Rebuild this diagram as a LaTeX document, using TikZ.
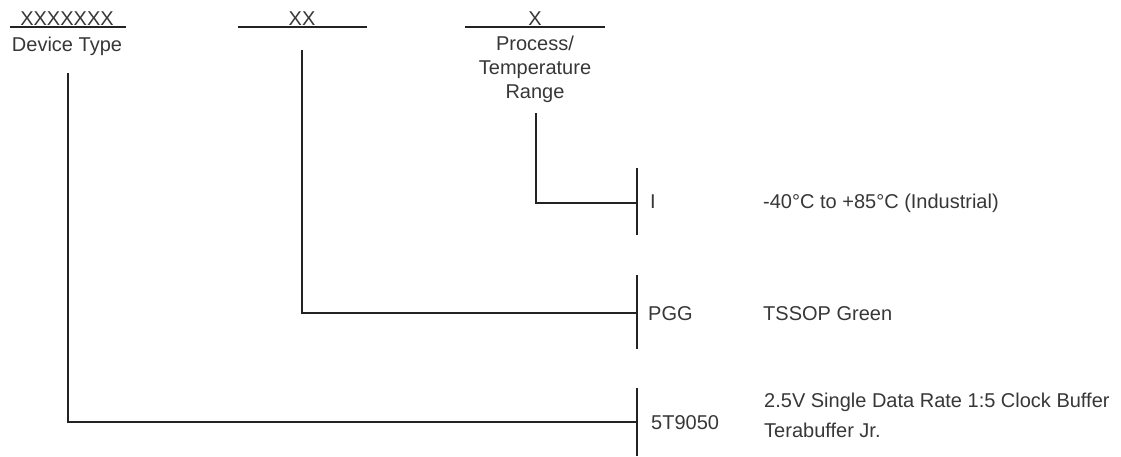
\documentclass[tikz,border=0pt]{standalone}
\usepackage{fontspec}
\setmainfont{Liberation Sans}
\definecolor{txt}{RGB}{55,55,55}
\definecolor{lnc}{RGB}{35,35,35}
\begin{document}
\begin{tikzpicture}[x=1pt,y=-1pt,
  lbl/.style={font=\fontsize{20}{24}\selectfont, text=txt, inner sep=0pt, anchor=base},
  lblw/.style={font=\fontsize{20}{24}\selectfont, text=txt, inner sep=0pt, anchor=base west},
  ln/.style={draw=lnc, line width=1.4pt},
  bar/.style={draw=lnc, line width=1.4pt}]
\useasboundingbox (0,0) rectangle (1121,456);
% header fields
\node[lbl] (f1) at (67,25) {XXXXXXX};
\node[lbl] (f2) at (302,25) {XX};
\node[lbl] (f3) at (535,25) {X};
\draw[ln] (10,27) -- (126,27);
\draw[ln] (238,27) -- (367,27);
\draw[ln] (465,27) -- (605,27);
\node[lbl] (d1) at (67,51) {Device Type};
\node[lbl] (d3a) at (535,50) {Process/};
\node[lbl] (d3b) at (535,74) {Temperature};
\node[lbl] (d3c) at (535,98) {Range};
% connector start points
\coordinate (s1) at (68,73);
\coordinate (s2) at (302,50);
\coordinate (s3) at (536,113);
% bar junctions
\coordinate (j1) at (637,422);
\coordinate (j2) at (637,313);
\coordinate (j3) at (637,203);
% bars
\draw[bar] (637,168) -- (637,235);
\draw[bar] (637,275) -- (637,349);
\draw[bar] (637,388) -- (637,456);
% connectors
\draw[ln] (s3) |- (j3);
\draw[ln] (s2) |- (j2);
\draw[ln] (s1) |- (j1);
% options
\node[lblw] (c3) at (650,208) {I};
\node[lblw] (e3) at (763,208) {-40°C to +85°C (Industrial)};
\node[lblw] (c2) at (648,320) {PGG};
\node[lblw] (e2) at (763,320) {TSSOP Green};
\node[lblw] (c1) at (651,429) {5T9050};
\node[lblw] (e1a) at (764,407) {2.5V Single Data Rate 1:5 Clock Buffer};
\node[lblw] (e1b) at (764,437) {Terabuffer Jr.};
\end{tikzpicture}
\end{document}
